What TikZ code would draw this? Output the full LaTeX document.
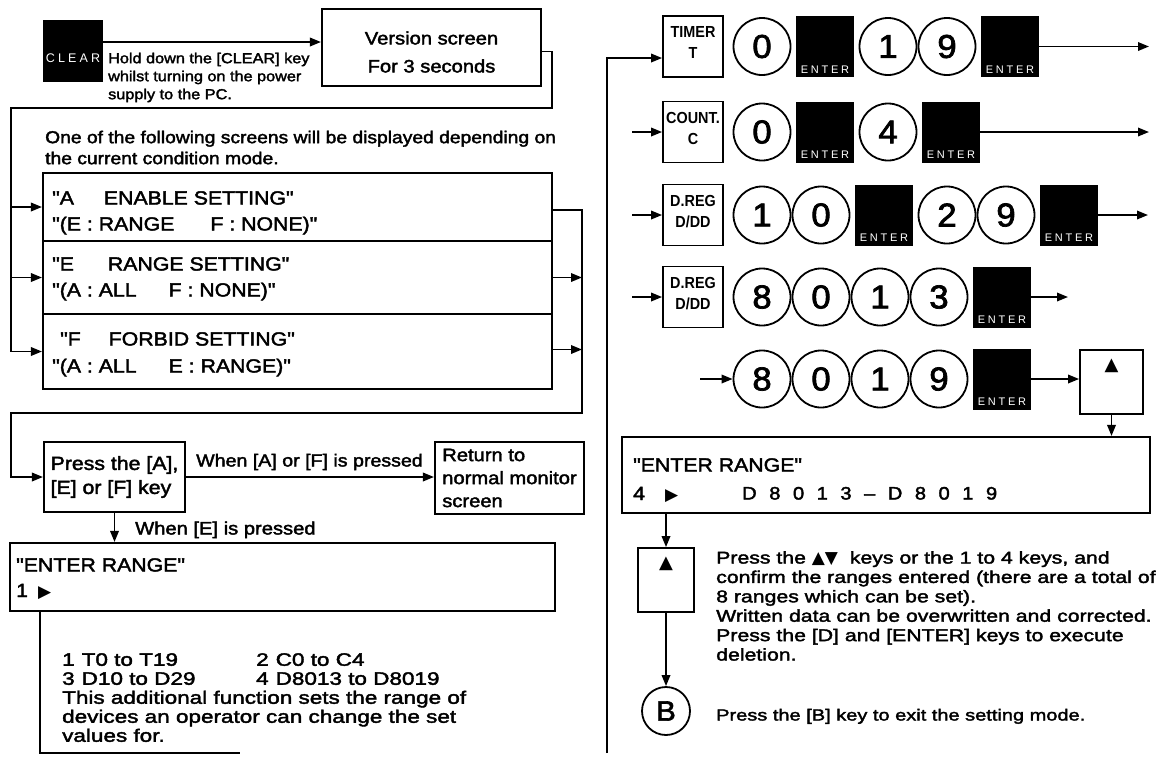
\documentclass[tikz,border=0pt]{standalone}
\usepackage{fontspec}
\setmainfont{Liberation Sans}[Ligatures=TeXOff,FakeStretch=1.12,FakeBold=2.2]
\newfontfamily\widefont{Liberation Sans}[Ligatures=TeXOff,FakeStretch=1.25,FakeBold=2.2]
\newfontfamily\symfont{DejaVu Sans}
\newfontfamily\keyfont{Liberation Sans}[FakeStretch=0.9]
\newfontfamily\capfont{Liberation Sans}[LetterSpace=25]
\newfontfamily\digitfont{Liberation Sans}[FakeStretch=1.05,FakeBold=2.2]
\usetikzlibrary{arrows.meta}

\newcommand{\maintext}{\fontsize{18}{19.5}\selectfont}
\newcommand{\screentext}{\fontsize{19}{19}\selectfont}
\newcommand{\notetext}{\fontsize{14.5}{18}\selectfont}
\newcommand{\tri}[1]{{\symfont\fontsize{17}{17}\selectfont #1}}

\tikzset{
  line/.style={line width=1.8pt},
  arr/.style={line width=1.8pt,-{Triangle[length=11pt,width=8.5pt]}},
  frame/.style={draw,line width=2.1pt,inner sep=0pt},
  keybox/.style={draw,line width=1.8pt,inner sep=0pt,minimum width=60pt,minimum height=61pt},
  blackkey/.style={fill=black,inner sep=0pt,minimum width=58pt,minimum height=61pt},
  numkey/.style={draw,circle,line width=1.8pt,inner sep=0pt,minimum size=57pt,
    font=\digitfont\fontsize{33}{33}\selectfont},
  keylabel/.style={inner sep=0pt,font=\keyfont\bfseries\fontsize{16}{16}\selectfont},
  txt/.style={inner sep=0pt,font=\maintext,align=left},
}

\newcommand{\drawnumkey}[4]{% Parameters: name, x, y, digit
  \node[numkey] (#1) at (#2,#3) {#4};
}
\newcommand{\drawenterkey}[3]{% Parameters: name, x, y
  \node[blackkey] (#1) at (#2,#3) {};
  \node[anchor=south,inner sep=0pt,text=white,font=\capfont\fontsize{11}{11}\selectfont]
    (#1-lbl) at ([yshift=4pt]#1.south) {ENTER};
}
\newcommand{\drawfunckey}[5]{% Parameters: name, x, y, top label, bottom label
  \node[keybox] (#1) at (#2,#3) {};
  \node[keylabel] (#1-top) at ([yshift=-17pt]#1.north) {#4};
  \node[keylabel] (#1-bot) at ([yshift=-38pt]#1.north) {#5};
}
\newcommand{\drawarrowkey}[5]{% Parameters: name, x, y, width, height
  \node[keybox,minimum width=#4pt,minimum height=#5pt] (#1) at (#2,#3) {};
  \node[inner sep=0pt,font=\symfont\fontsize{18}{18}\selectfont] (#1-lbl)
    at ([yshift=-17pt]#1.north) {▲};
}

\begin{document}
\begin{tikzpicture}[x=1pt,y=-1pt]
  \useasboundingbox (0,0) rectangle (1173,764);

  % ---- left column: power on
  \node[fill=black,minimum width=60pt,minimum height=62pt,inner sep=0pt] (clear) at (73,51) {};
  \node[text=white,inner sep=0pt,font=\capfont\fontsize{12.5}{12.5}\selectfont] (clear-lbl) at (73,58) {CLEAR};
  \node[frame,minimum width=219pt,minimum height=77pt] (version) at (431.5,47.5) {};
  \node[txt,align=center,font=\fontsize{18}{28}\selectfont] (version-txt) at (431.5,52) {Version screen\\For 3 seconds};
  \draw[arr] ([yshift=9pt]clear.east) -- ([yshift=9pt]clear.east -| version.west);
  \node[txt,anchor=north west,font=\notetext] (holdnote) at (108,52.5)
    {Hold down the [CLEAR] key\\whilst turning on the power\\supply to the PC.};

  % ---- condition screens
  \node[txt,anchor=north west,font=\fontsize{17.2}{21}\selectfont] (intro) at (45,130.5)
    {One of the following screens will be displayed depending on\\the current condition mode.};
  \node[frame,minimum width=509pt,minimum height=68pt] (scrA) at (297.5,207) {};
  \node[frame,minimum width=509pt,minimum height=73pt] (scrE) at (297.5,277.5) {};
  \node[frame,minimum width=509pt,minimum height=75pt] (scrF) at (297.5,351.5) {};
  \node[txt,anchor=base west,font=\screentext] (scrA-1) at (52,204.5) {"A\hspace{30pt}ENABLE SETTING"};
  \node[txt,anchor=base west,font=\screentext] (scrA-2) at (52,230.5) {"(E : RANGE\hspace{36pt}F : NONE)"};
  \node[txt,anchor=base west,font=\screentext] (scrE-1) at (52,270.5) {"E\hspace{34pt}RANGE SETTING"};
  \node[txt,anchor=base west,font=\screentext] (scrE-2) at (52,296.5) {"(A : ALL\hspace{32pt}F : NONE)"};
  \node[txt,anchor=base west,font=\screentext] (scrF-1) at (60,345.5) {"F\hspace{28pt}FORBID SETTING"};
  \node[txt,anchor=base west,font=\screentext] (scrF-2) at (52,372.5) {"(A : ALL\hspace{32pt}E : RANGE)"};

  \coordinate (vr) at (552,108);
  \coordinate (vl) at (11,108);
  \draw[line] ([yshift=-4pt]version.east) -| (vr) -- (vl) -- (vl |- scrF.west);
  \foreach \s in {scrA,scrE,scrF}
    \draw[arr] (vl |- \s.west) -- (\s.west);

  % ---- key choice
  \node[frame,minimum width=141pt,minimum height=70pt,align=left,font=\fontsize{19}{24}\selectfont]
    (press) at (114.5,477) {Press the [A],\\{[E]} or [F] key};
  \node[frame,minimum width=149pt,minimum height=72pt,align=left,font=\fontsize{18}{23}\selectfont]
    (return) at (509.5,478) {Return to\\normal monitor\\screen};

  \coordinate (cr) at (582,413);
  \coordinate (cl) at (11,413);
  \draw[arr] ([yshift=-3pt]scrA.east) -| (cr) -- (cl) |- (press.west);
  \draw[arr] (scrE.east) -- (scrE.east -| cr);
  \draw[arr] ([yshift=2pt]scrF.east) -- ([yshift=2pt]scrF.east -| cr);

  \draw[arr] (press.east) -- (press.east -| return.west);
  \node[txt,anchor=base west,font=\fontsize{17.5}{17.5}\selectfont] (whenAF) at (196,466.5) {When [A] or [F] is pressed};
  \node[frame,minimum width=545pt,minimum height=68pt] (enterL) at (282.5,577) {};
  \draw[arr] (press.south) -- (press.south |- enterL.north);
  \node[txt,anchor=base west] (whenE) at (135,534.5) {When [E] is pressed};
  \node[txt,anchor=base west,font=\screentext] (enterL-1) at (16,571.5) {"ENTER RANGE"};
  \node[txt,anchor=base west,font=\screentext] (enterL-2) at (16,597) {1\hspace{10pt}\tri{▶}};

  \coordinate (brk) at (40,753);
  \coordinate (brkend) at (240,753);
  \draw[line] (enterL.south -| brk) -- (brk) -- (brkend);
  \node[txt,anchor=north west,font=\widefont\fontsize{18}{19}\selectfont] (ranges) at (62,653)
    {\makebox[194pt][l]{1\hspace{7pt}T0 to T19}2\hspace{7pt}C0 to C4\\
     \makebox[194pt][l]{3\hspace{7pt}D10 to D29}4\hspace{7pt}D8013 to D8019\\
     This additional function sets the range of\\
     devices an operator can change the set\\
     values for.};

  % ---- right column: key entries
  \drawfunckey{timer}{693}{46.5}{TIMER}{T}
  \drawnumkey{t0}{762}{46.5}{0}
  \drawenterkey{te1}{825}{46.5}
  \drawnumkey{t1}{888}{46.5}{1}
  \drawnumkey{t9}{947}{46.5}{9}
  \drawenterkey{te2}{1010}{46.5}
  \coordinate (tout) at (1149,46.5);
  \draw[arr] (te2) -- (tout);

  \drawfunckey{count}{693}{132}{COUNT.}{C}
  \drawnumkey{c0}{762}{132}{0}
  \drawenterkey{ce1}{825}{132}
  \drawnumkey{c4}{888}{132}{4}
  \drawenterkey{ce2}{951}{132}
  \coordinate (cout) at (1149,132);
  \draw[arr] (ce2) -- (cout);

  \drawfunckey{dregA}{693}{215}{D.REG}{D/DD}
  \drawnumkey{da1}{762}{215}{1}
  \drawnumkey{da0}{821}{215}{0}
  \drawenterkey{dae1}{884}{215}
  \drawnumkey{da2}{947}{215}{2}
  \drawnumkey{da9}{1006}{215}{9}
  \drawenterkey{dae2}{1069}{215}
  \coordinate (daout) at (1148,215);
  \draw[arr] (dae2) -- (daout);

  \drawfunckey{dregB}{693}{297}{D.REG}{D/DD}
  \drawnumkey{db8}{762}{297}{8}
  \drawnumkey{db0}{821}{297}{0}
  \drawnumkey{db1}{880}{297}{1}
  \drawnumkey{db3}{939}{297}{3}
  \drawenterkey{dbe}{1002}{297}
  \coordinate (dbout) at (1068,297);
  \draw[arr] (dbe) -- (dbout);

  \coordinate (dcin) at (700,379);
  \drawnumkey{dc8}{762}{379}{8}
  \drawnumkey{dc0}{821}{379}{0}
  \drawnumkey{dc1}{880}{379}{1}
  \drawnumkey{dc9}{939}{379}{9}
  \drawenterkey{dce}{1002}{379}
  \drawarrowkey{upA}{1111.5}{382}{63}{64}
  \draw[arr] (dcin) -- (dc8);
  \draw[arr] (dce) -- (dce -| upA.west);

  \foreach \k in {count,dregA,dregB}
    \draw[arr] ([xshift=-30pt]\k.west) -- (\k.west);
  \coordinate (rb) at (607,753);
  \draw[arr] (rb) |- ([yshift=-11.5pt]timer.west);

  % ---- range confirmation
  \node[frame,minimum width=528pt,minimum height=76pt] (enterR) at (886,475) {};
  \node[txt,anchor=base west,font=\screentext] (enterR-1) at (633,471.5) {"ENTER RANGE"};
  \node[txt,anchor=base west,font=\screentext] (enterR-2) at (633,500) {4\hspace{20pt}\tri{▶}};
  \node[txt,anchor=base west] (enterR-3) at (742,499.5)
    {D\hspace{12.5pt}8\hspace{12.5pt}0\hspace{12.5pt}1\hspace{12.5pt}3\hspace{12.5pt}–\hspace{12.5pt}D\hspace{12.5pt}8\hspace{12.5pt}0\hspace{12.5pt}1\hspace{12.5pt}9};
  \draw[arr] (upA.south) -- (upA.south |- enterR.north);

  \drawarrowkey{upB}{666}{580}{56}{64}
  \draw[arr] (enterR.south -| upB.north) -- (upB.north);
  \node[numkey,minimum size=48pt,font=\digitfont\fontsize{28}{28}\selectfont] (bkey) at (666,711) {B};
  \draw[arr] (upB.south) -- (bkey.north);
  \node[txt,anchor=north west,font=\widefont\fontsize{17}{19.4}\selectfont] (keyhelp) at (716,551)
    {Press the \tri{▲▼}\ \ keys or the 1 to 4 keys, and\\
     confirm the ranges entered (there are a total of\\
     8 ranges which can be set).\\
     Written data can be overwritten and corrected.\\
     Press the [D] and [ENTER] keys to execute\\
     deletion.};
  \node[txt,anchor=base west,font=\widefont\fontsize{16}{16}\selectfont] (bhelp) at (716,720.5) {Press the [B] key to exit the setting mode.};
\end{tikzpicture}
\end{document}
